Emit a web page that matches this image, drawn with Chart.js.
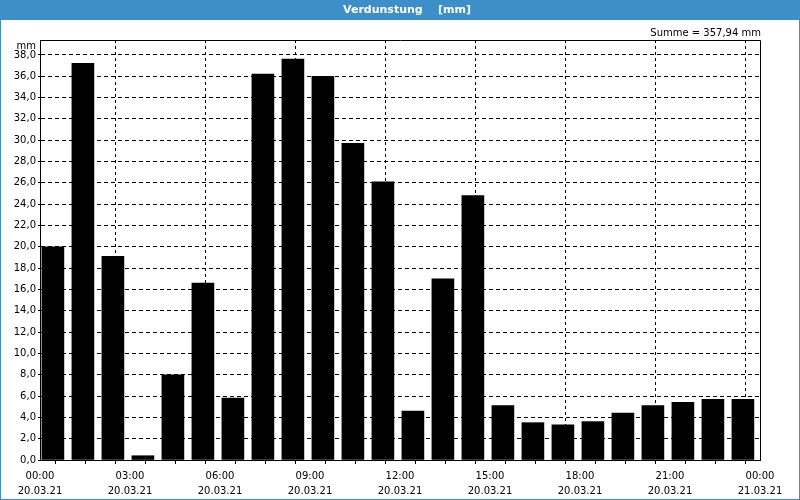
<!DOCTYPE html>
<html>
<head>
<meta charset="utf-8">
<title>Verdunstung</title>
<script src="https://cdn.jsdelivr.net/npm/chart.js@4.4.1/dist/chart.umd.min.js"></script>
<style>
    html, body { margin: 0; padding: 0; background: #fff; }
    #chartBox { width: 800px; height: 500px; }
</style>
</head>
<body>
<div id="chartBox"><canvas id="evapChart" width="800" height="500"></canvas></div>
<script>
// Stunden (Beginn des Intervalls) und Verdunstung je Stunde in mm
const hours = [0, 1, 2, 3, 4, 5, 6, 7, 8, 9, 10, 11, 12, 13, 14, 15, 16, 17, 18, 19, 20, 21, 22, 23];
const values = [20.0, 37.2, 19.1, 0.4, 8.0, 16.6, 5.8, 36.2, 37.6, 36.0, 29.7, 26.1,
                4.6, 17.0, 24.8, 5.1, 3.5, 3.3, 3.6, 4.4, 5.1, 5.4, 5.7, 5.7];

// Achsenbeschriftungen
const xTickHours = [0, 3, 6, 9, 12, 15, 18, 21, 24];
const xTickTimes = ['00:00', '03:00', '06:00', '09:00', '12:00', '15:00', '18:00', '21:00', '00:00'];
const xTickDates = ['20.03.21', '20.03.21', '20.03.21', '20.03.21', '20.03.21', '20.03.21', '20.03.21', '20.03.21', '21.03.21'];
const yTicks = [0, 2, 4, 6, 8, 10, 12, 14, 16, 18, 20, 22, 24, 26, 28, 30, 32, 34, 36, 38];

const titleText = 'Verdunstung    [mm]';
const sumText = 'Summe = 357,94 mm';
const unitText = 'mm';

const FONT = 'DejaVu Sans';
const BLUE = '#3c8fc8';

// Kopfzeile, Rahmen und Zusatztexte
const framePlugin = {
    id: 'frame',
    beforeDraw(chart) {
        const ctx = chart.ctx;
        const w = chart.width, h = chart.height;
        ctx.save();
        ctx.fillStyle = '#fff';
        ctx.fillRect(0, 0, w, h);
        ctx.fillStyle = BLUE;
        ctx.fillRect(0, 0, w, 20);
        ctx.strokeStyle = BLUE;
        ctx.lineWidth = 1;
        ctx.strokeRect(0.5, 0.5, w - 1, h - 1);

        ctx.fillStyle = '#fff';
        ctx.font = 'bold 11px ' + FONT;
        ctx.textAlign = 'center';
        ctx.textBaseline = 'middle';
        ctx.fillText(titleText, 407, 10.5);

        ctx.fillStyle = '#000';
        ctx.font = '10px ' + FONT;
        ctx.textAlign = 'right';
        ctx.fillText(sumText, chart.chartArea.right + 1, 33);
        ctx.fillText(unitText, chart.chartArea.left - 4, 46);
        ctx.restore();
    },
    afterDraw(chart) {
        // geschlossener Rahmen um die Zeichenfläche
        const a = chart.chartArea;
        const ctx = chart.ctx;
        ctx.save();
        ctx.strokeStyle = '#000';
        ctx.lineWidth = 1;
        ctx.setLineDash([]);
        ctx.beginPath();
        ctx.moveTo(Math.round(a.left) + 0.5, Math.round(a.top) + 0.5);
        ctx.lineTo(Math.round(a.right) + 0.5, Math.round(a.top) + 0.5);
        ctx.lineTo(Math.round(a.right) + 0.5, Math.round(a.bottom) + 0.5);
        ctx.stroke();
        ctx.restore();
    }
};

const ctx = document.getElementById('evapChart').getContext('2d');

new Chart(ctx, {
    type: 'bar',
    data: {
        datasets: [{
            label: 'Verdunstung',
            data: hours.map((hr, i) => ({ x: hr + 0.43, y: values[i] })),
            backgroundColor: '#000',
            borderWidth: 0,
            barThickness: 22
        }]
    },
    options: {
        responsive: false,
        animation: false,
        layout: { padding: { left: 0, right: 40, top: 40, bottom: 0 } },
        plugins: {
            legend: { display: false },
            title: { display: false },
            tooltip: { enabled: false }
        },
        scales: {
            x: {
                type: 'linear',
                min: 0,
                max: 24,
                offset: false,
                afterBuildTicks: (scale) => {
                    scale.ticks = hours.concat([24]).map(v => ({ value: v }));
                },
                afterFit: (scale) => { scale.height = 40; },
                border: { display: true, color: '#000', width: 1, dash: [3, 3] },
                grid: {
                    color: (c) => (c.tick && c.tick.value % 3 === 0) ? '#000' : 'rgba(0,0,0,0)',
                    tickColor: '#000',
                    tickBorderDash: [1, 0],
                    tickLength: 4
                },
                ticks: {
                    autoSkip: false,
                    maxRotation: 0,
                    padding: 5,
                    color: '#000',
                    font: { family: FONT, size: 10, lineHeight: 1.5 },
                    callback: function (value) {
                        const idx = xTickHours.indexOf(value);
                        return idx >= 0 ? [xTickTimes[idx], xTickDates[idx]] : '';
                    }
                }
            },
            y: {
                min: 0,
                max: 39.4,
                afterBuildTicks: (scale) => {
                    scale.ticks = yTicks.map(v => ({ value: v }));
                },
                afterFit: (scale) => { scale.width = 40; },
                border: { display: true, color: '#000', width: 1, dash: [4, 3] },
                grid: {
                    color: '#000',
                    tickColor: '#000',
                    tickBorderDash: [1, 0],
                    tickLength: 2
                },
                ticks: {
                    padding: 2,
                    color: '#000',
                    font: { family: FONT, size: 10 },
                    callback: (value) => value.toFixed(1).replace('.', ',')
                }
            }
        }
    },
    plugins: [framePlugin]
});
</script>
</body>
</html>
